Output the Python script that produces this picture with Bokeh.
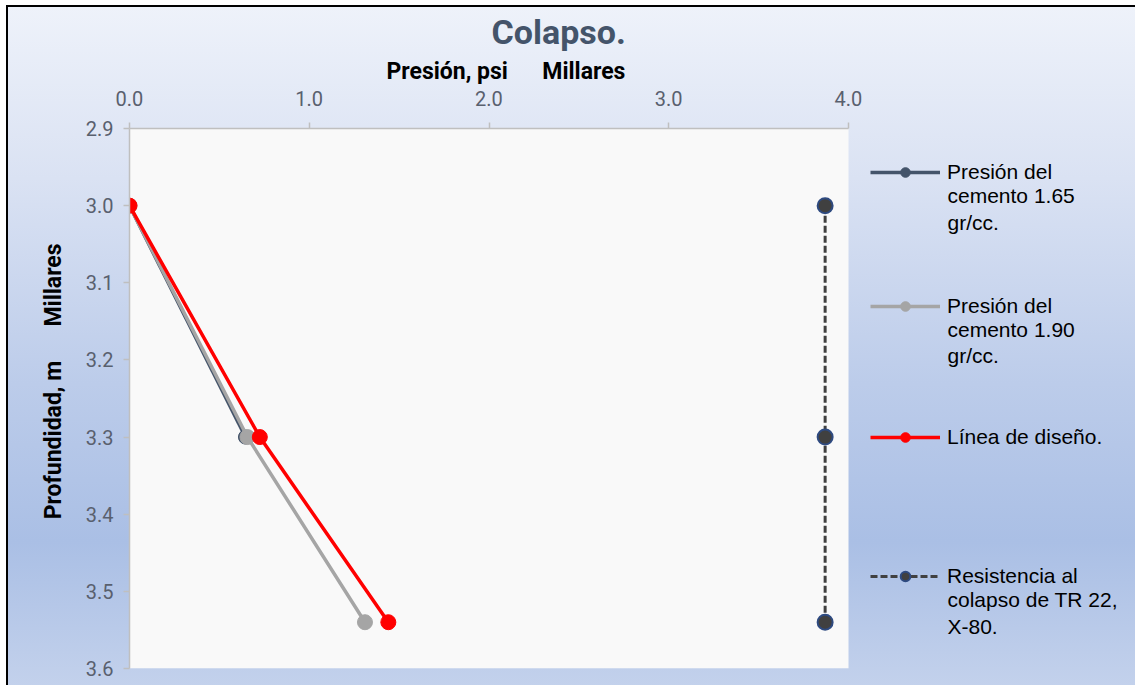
from bokeh.plotting import figure
from bokeh.models import (Range1d, FixedTicker, NumeralTickFormatter, Legend,
                          LegendItem, InlineStyleSheet, Title, Label)
from bokeh.embed import file_html
from bokeh.resources import INLINE

# ---- data (thousands) ----
depth_165 = [3.0, 3.3]
pres_165 = [0.0, 0.645]
depth_190 = [3.0, 3.3, 3.54]
pres_190 = [0.0, 0.656, 1.31]
depth_design = [3.0, 3.3, 3.54]
pres_design = [0.0, 0.725, 1.44]
depth_tr = [3.0, 3.3, 3.54]
pres_tr = [3.87, 3.87, 3.87]
x_ticks = [0.0, 1.0, 2.0, 3.0, 4.0]
y_ticks = [2.9, 3.0, 3.1, 3.2, 3.3, 3.4, 3.5, 3.6]
legend_first = ["Presión del", "Presión del", "Línea de diseño.", "Resistencia al"]
legend_rest = ["cemento 1.65\ngr/cc.", "cemento 1.90\ngr/cc.", None, "colapso de TR 22,\nX-80."]
NB = "\u00a0"
x_title = "Presión, psi" + NB * 6 + "Millares"
y_title = NB * 6 + "Profundidad, m" + NB * 6 + "Millares"

# ---- layout (pixels) ----
W, H = 1135, 685
LEFT, TOP, BOTTOM = 129, 128, 17
AREA_W = 719                      # width of the 0..4 plot area
FRAME_W = W - LEFT
FRAME_H = H - TOP - BOTTOM
x_end = x_ticks[-1] * FRAME_W / AREA_W

FONT = "Roboto"
p = figure(width=W, height=H,
           x_range=Range1d(x_ticks[0], x_end), y_range=Range1d(y_ticks[-1], y_ticks[0]),
           x_axis_location="above",
           output_backend="svg", toolbar_location=None,
           min_border_left=LEFT, min_border_right=0,
           min_border_top=TOP, min_border_bottom=BOTTOM)

p.stylesheets = [InlineStyleSheet(css=""":host {
  background:
    linear-gradient(#000, #000) 6px 5px / 2px 100% no-repeat,
    linear-gradient(#000, #000) 6px 5px / 100% 2px no-repeat,
    linear-gradient(to bottom, #EEF2FA 0%, #DAE2F3 25%, #BCCCEA 55%, #AABFE5 78%, #C4D2EC 100%) 8px 7px / 100% 100% no-repeat,
    #FFFFFF;
}""")]
p.border_fill_color = None
p.background_fill_color = None
p.outline_line_color = None
p.xgrid.grid_line_color = None
p.ygrid.grid_line_color = None

# plot area (0..4 x 2.9..3.6)
p.quad(left=x_ticks[0], right=x_ticks[-1], top=y_ticks[0], bottom=y_ticks[-1],
       fill_color="#F9F9F9", line_color=None)

for ax in (p.xaxis[0], p.yaxis[0]):
    ax.axis_line_color = "#BFBFBF"
    ax.axis_line_width = 1.5
    ax.major_tick_line_color = "#BFBFBF"
    ax.major_tick_line_width = 1.5
    ax.major_tick_out = 6
    ax.major_tick_in = 0
    ax.minor_tick_line_color = None
    ax.major_label_text_font = FONT
    ax.major_label_text_font_size = "20px"
    ax.major_label_text_color = "#59606E"
    ax.formatter = NumeralTickFormatter(format="0.0")
    ax.axis_label_text_font = FONT
    ax.axis_label_text_font_size = "23px"
    ax.axis_label_text_font_style = "bold"
    ax.axis_label_text_color = "#000000"

p.xaxis[0].ticker = FixedTicker(ticks=x_ticks)
p.xaxis[0].bounds = (x_ticks[0], x_ticks[-1])
p.yaxis[0].ticker = FixedTicker(ticks=y_ticks)
p.xaxis[0].major_label_standoff = 17
p.yaxis[0].major_label_standoff = 10
p.yaxis[0].axis_label = y_title
p.yaxis[0].axis_label_standoff = 16

p.add_layout(Title(text=x_title, align="left", offset=257, text_font=FONT,
                   text_font_size="23px", text_font_style="bold", text_color="#000000",
                   standoff=5), "above")
p.title = Title(text="Colapso.", align="left", offset=362, text_font=FONT,
                text_font_size="34px", text_font_style="bold", text_color="#44546A",
                standoff=4)

r1l = p.line(pres_165, depth_165, line_color="#44546A", line_width=3.5)
r1m = p.scatter(pres_165, depth_165, size=14, fill_color="#44546A", line_color="#44546A")
r2l = p.line(pres_190, depth_190, line_color="#A5A5A5", line_width=3.5)
r2m = p.scatter(pres_190, depth_190, size=15, fill_color="#A5A5A5", line_color="#A5A5A5")
r3l = p.line(pres_design, depth_design, line_color="#FF0000", line_width=3.5)
r3m = p.scatter(pres_design, depth_design, size=15, fill_color="#FF0000", line_color="#FF0000")
r4l = p.line(pres_tr, depth_tr, line_color="#404040", line_width=3, line_dash="7 3")
r4m = p.scatter(pres_tr, depth_tr, size=15, fill_color="#404040", line_color="#2E4A80", line_width=2)

rends = [[r1l, r1m], [r2l, r2m], [r3l, r3m], [r4l, r4m]]
FRAME_BOTTOM = TOP + FRAME_H
first_line_y = [172, 305.5, 437, 576]   # page y of each entry's first line
for first, rest, rr, cy in zip(legend_first, legend_rest, rends, first_line_y):
    lg = Legend(items=[LegendItem(label=first, renderers=rr)],
                location=(870 - LEFT, FRAME_BOTTOM - (cy + 12)),
                orientation="vertical", padding=0, margin=0, spacing=0,
                border_line_color=None, background_fill_alpha=0,
                glyph_width=70, glyph_height=24, label_standoff=7,
                label_text_font="Liberation Sans", label_text_font_size="21px",
                label_text_color="#000000", label_height=24)
    p.add_layout(lg, "center")
    if rest:
        p.add_layout(Label(x=947 - LEFT, y=FRAME_BOTTOM - (cy + 36.5), x_units="screen",
                           y_units="screen", text=rest, text_font="Liberation Sans",
                           text_font_size="21px", text_color="#000000", text_align="left",
                           text_baseline="middle", text_line_height=1.17))

open("out.html", "w").write(file_html(p, INLINE))
